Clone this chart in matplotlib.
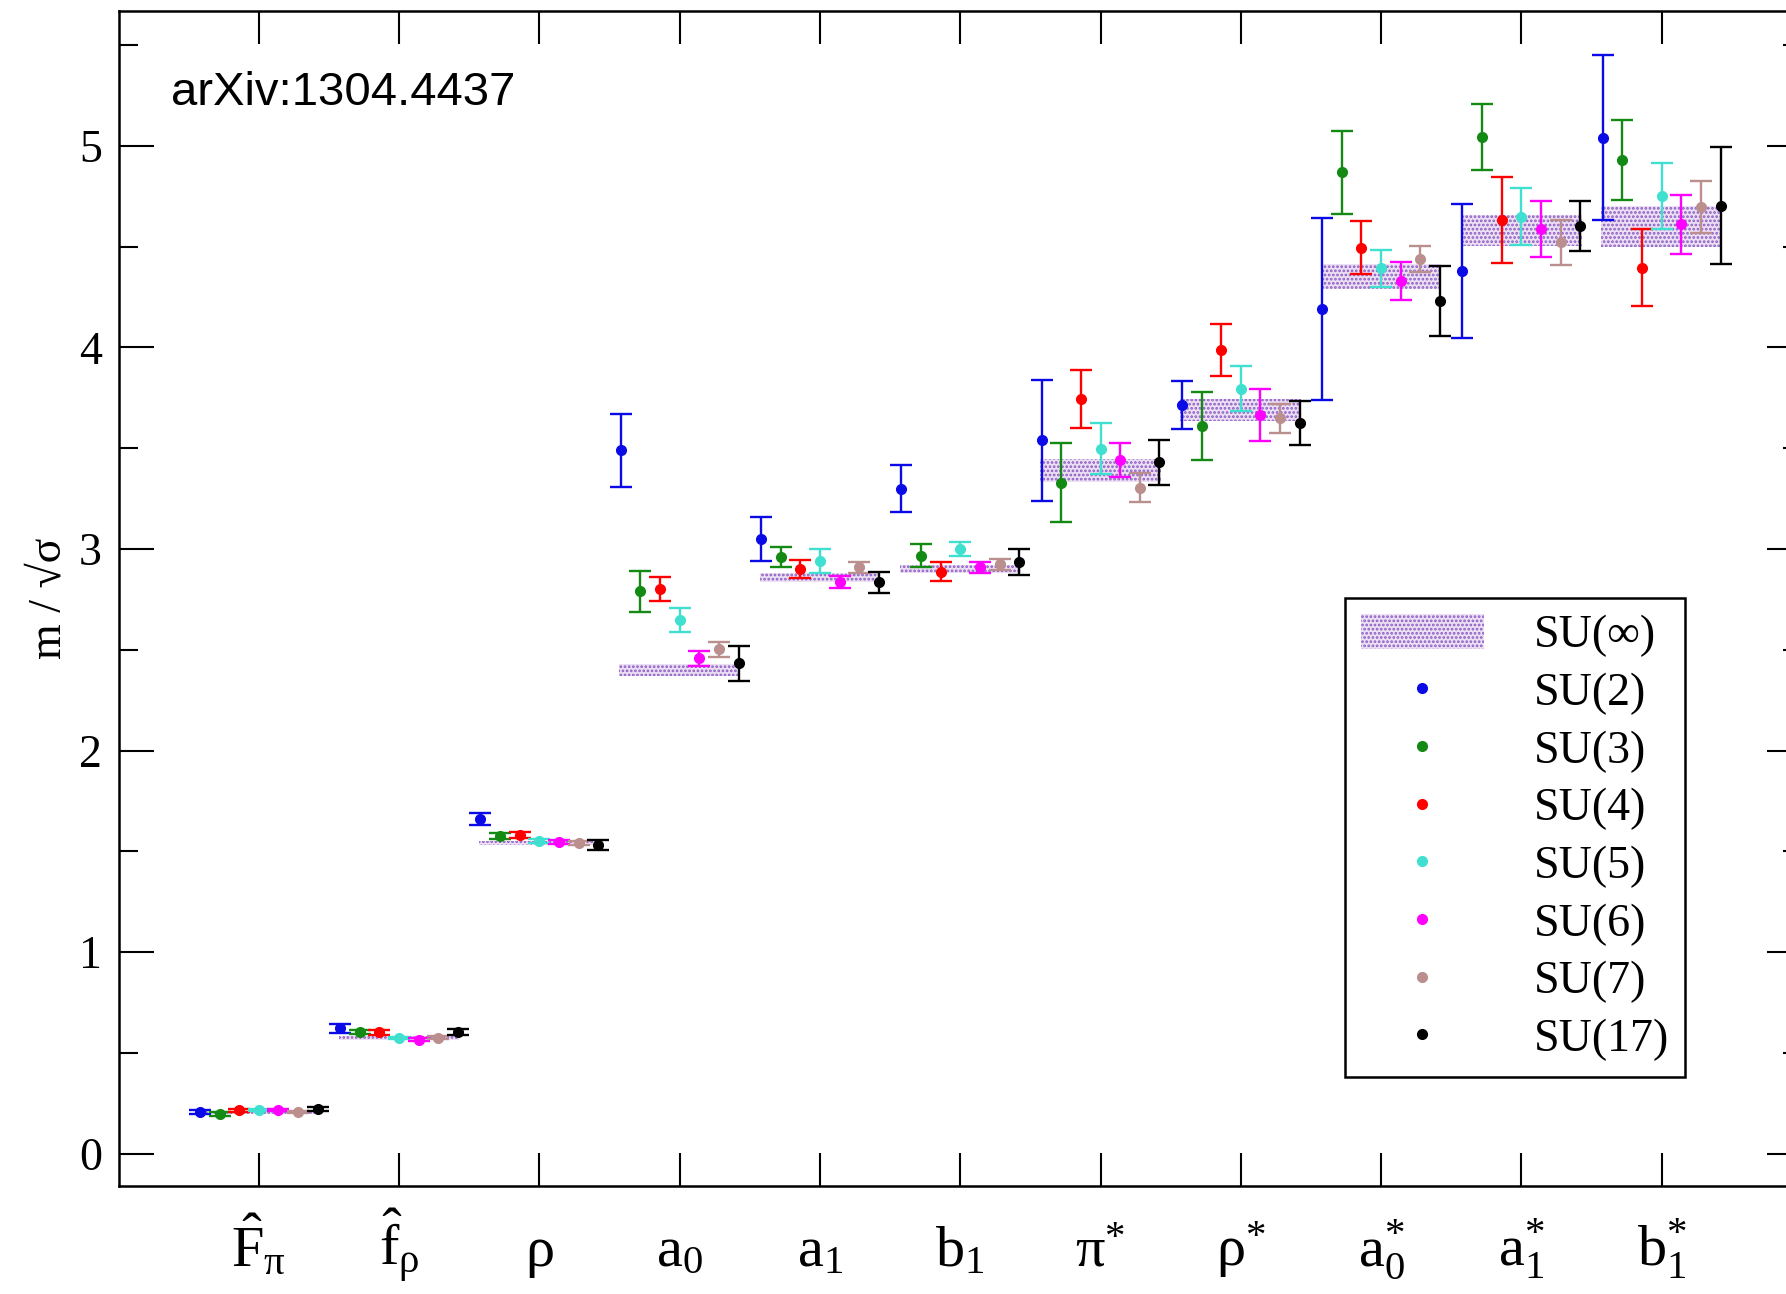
import matplotlib
matplotlib.use('Agg')
import matplotlib.pyplot as plt
from matplotlib.lines import Line2D
from matplotlib.patches import Patch

plt.rcParams['font.family'] = ['Liberation Serif', 'DejaVu Serif']
plt.rcParams['mathtext.fontset'] = 'custom'
plt.rcParams['mathtext.rm'] = 'Liberation Serif'
plt.rcParams['mathtext.it'] = 'Liberation Serif:italic'
plt.rcParams['mathtext.bf'] = 'Liberation Serif:bold'
plt.rcParams['mathtext.fallback'] = 'stix'
plt.rcParams['hatch.linewidth'] = 1.3

# meson states along the x axis
states = [r'$\hat{\mathrm{F}}_{\mathrm{π}}$', r'$\hat{\mathrm{f}}_{\mathrm{ρ}}$', r'$\mathrm{ρ}$',
          r'$\mathrm{a}_{0}$', r'$\mathrm{a}_{1}$', r'$\mathrm{b}_{1}$',
          r'$\mathrm{π}^{*}$', r'$\mathrm{ρ}^{*}$', r'$\mathrm{a}_{0}^{*}$',
          r'$\mathrm{a}_{1}^{*}$', r'$\mathrm{b}_{1}^{*}$']

groups = ['SU(2)', 'SU(3)', 'SU(4)', 'SU(5)', 'SU(6)', 'SU(7)', 'SU(17)']
colors = ['#0a0ae6', '#138a13', '#ff0000', '#40e0d0', '#ff00ff', '#bc8f8f', '#000000']

# m/sqrt(sigma) and errors, one list per gauge group
su2 = [0.206, 0.623, 1.661, 3.49, 3.05, 3.30, 3.54, 3.715, 4.19, 4.38, 5.04]
su2_err = [0.01, 0.022, 0.03, 0.18, 0.11, 0.115, 0.30, 0.118, 0.45, 0.333, 0.41]
su3 = [0.198, 0.603, 1.576, 2.79, 2.962, 2.967, 3.33, 3.611, 4.869, 5.046, 4.93]
su3_err = [0.01, 0.01, 0.015, 0.10, 0.05, 0.057, 0.196, 0.17, 0.205, 0.164, 0.20]
su4 = [0.216, 0.603, 1.582, 2.80, 2.90, 2.888, 3.745, 3.988, 4.495, 4.632, 4.396]
su4_err = [0.006, 0.012, 0.015, 0.06, 0.045, 0.047, 0.145, 0.13, 0.13, 0.215, 0.19]
su5 = [0.216, 0.575, 1.554, 2.648, 2.941, 3.00, 3.498, 3.796, 4.393, 4.649, 4.752]
su5_err = [0.005, 0.005, 0.01, 0.058, 0.06, 0.035, 0.128, 0.113, 0.092, 0.142, 0.165]
su6 = [0.218, 0.567, 1.548, 2.458, 2.838, 2.91, 3.44, 3.665, 4.33, 4.586, 4.611]
su6_err = [0.005, 0.008, 0.01, 0.038, 0.03, 0.027, 0.085, 0.13, 0.093, 0.138, 0.146]
su7 = [0.208, 0.577, 1.542, 2.503, 2.91, 2.925, 3.305, 3.649, 4.439, 4.522, 4.698]
su7_err = [0.005, 0.006, 0.01, 0.037, 0.027, 0.027, 0.074, 0.072, 0.064, 0.112, 0.13]
su17 = [0.223, 0.603, 1.531, 2.433, 2.835, 2.936, 3.43, 3.624, 4.231, 4.603, 4.703]
su17_err = [0.01, 0.015, 0.025, 0.087, 0.051, 0.064, 0.11, 0.11, 0.174, 0.125, 0.29]

# large-N extrapolation (centre and half width of the band)
suinf = [0.205, 0.575, 1.54, 2.40, 2.86, 2.90, 3.39, 3.69, 4.35, 4.58, 4.60]
suinf_err = [0.008, 0.01, 0.01, 0.032, 0.021, 0.02, 0.058, 0.055, 0.062, 0.075, 0.10]

values = [su2, su3, su4, su5, su6, su7, su17]
errors = [su2_err, su3_err, su4_err, su5_err, su6_err, su7_err, su17_err]

band_style = dict(facecolor='#ecdff3', edgecolor='#8a5cc4', hatch='....', linewidth=0)

fig = plt.figure(figsize=(17.86, 12.94), dpi=100)
ax = fig.add_axes([0.06635, 0.0837, 0.9426, 0.9075])

for k in range(len(states)):
    xc = k + 1
    ax.fill_between([xc - 0.43, xc + 0.43],
                    suinf[k] - suinf_err[k], suinf[k] + suinf_err[k],
                    zorder=1, **band_style)

for i, (vals, errs, col) in enumerate(zip(values, errors, colors)):
    xs = [k + 1 + (i - 3) * 0.14 for k in range(len(vals))]
    ax.errorbar(xs, vals, yerr=errs, fmt='o', color=col, ms=7,
                elinewidth=1.7, capsize=8, capthick=1.7, zorder=3)

ax.set_xlim(0, 12)
ax.set_ylim(-0.158, 5.667)
ax.set_xticks(range(1, len(states) + 1))
ax.set_xticklabels(states, fontsize=42)
for lbl in ax.get_xticklabels():
    lbl.set_verticalalignment('baseline')
ax.set_yticks([0, 1, 2, 3, 4, 5])
ax.set_yticks([0.5, 1.5, 2.5, 3.5, 4.5, 5.5], minor=True)
ax.tick_params(axis='both', which='both', direction='in', top=True, right=True)
ax.tick_params(axis='x', which='major', length=24, width=1.5, pad=58)
ax.tick_params(axis='y', which='major', length=25, width=1.5, pad=12, labelsize=33)
ax.tick_params(axis='y', which='minor', length=14, width=1.5)
for sp in ax.spines.values():
    sp.set_linewidth(1.8)

ax.set_ylabel('m / √σ', fontsize=33, labelpad=6)

ax.text(0.031, 0.9305, 'arXiv:1304.4437', transform=ax.transAxes,
        fontsize=34, family=['Liberation Sans', 'DejaVu Sans'], va='center', ha='left')

handles = [Patch(**band_style)]
handles += [Line2D([], [], marker='o', linestyle='none', color=c, ms=7) for c in colors]
labels = ['SU(∞)'] + groups
leg = ax.legend(handles, labels, loc='upper left', bbox_to_anchor=(0.7286, 0.5005),
                borderaxespad=0, fontsize=33, frameon=True, fancybox=False,
                edgecolor='black', framealpha=1, handlelength=2.67, handleheight=0.8,
                handletextpad=1.1, labelspacing=0.31, borderpad=0.35)
leg.get_frame().set_linewidth(1.8)

fig.savefig('out.png', dpi=100)
